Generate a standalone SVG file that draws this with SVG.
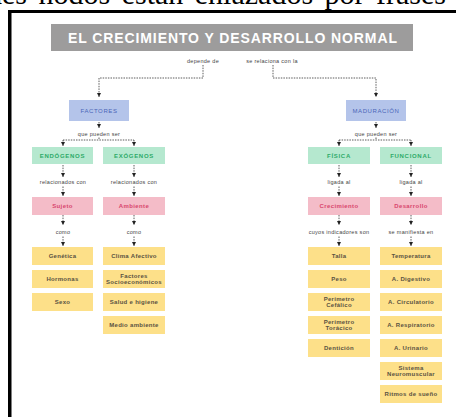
<svg xmlns="http://www.w3.org/2000/svg" width="456" height="417" viewBox="0 0 456 417">
<style>
.bg{fill:#ffffff}
.frame{fill:#000000}
.doc{font-family:"Liberation Serif",serif;font-size:30px;fill:#000;word-spacing:4px}
.title{fill:#9d9c9c}
.ttext{font-family:"Liberation Sans",Arial,sans-serif;font-size:14px;font-weight:bold;fill:#ffffff}
.blue{fill:#b4c4ea}
.green{fill:#b5e8cf}
.pink{fill:#f4bcc8}
.yellow{fill:#fde089}
.t{font-family:"Liberation Sans",Arial,sans-serif;text-anchor:middle;font-size:6px;letter-spacing:0.4px}
.tb{fill:#4b64b8;letter-spacing:0.6px}
.tg{fill:#2daa68;font-weight:bold;letter-spacing:0.7px}
.tp{fill:#d8466d;font-weight:bold}
.ty{fill:#5a5242;font-weight:bold;letter-spacing:0.3px}
.lbl{font-family:"Liberation Sans",Arial,sans-serif;text-anchor:middle;font-size:5.5px;fill:#444;letter-spacing:0.3px}
.c{fill:none;stroke:#333;stroke-width:0.8;stroke-dasharray:1.5 1.1}
.a{marker-end:url(#arr)}
</style>
<defs>
<marker id="arr" markerUnits="userSpaceOnUse" markerWidth="4" markerHeight="4" refX="4" refY="2" orient="auto">
<path d="M0,0 L4,2 L0,4 z" fill="#222"/>
</marker>
</defs>
<rect class="bg" x="0" y="0" width="456" height="417"/>
<text class="doc" x="-13" y="4">des nodos están enlazados por frases</text>
<rect class="frame" x="8" y="10" width="448" height="3"/>
<rect class="frame" x="8" y="10" width="3.5" height="407"/>

<g id="title">
<rect class="title" x="51" y="24" width="362" height="27"/>
<text class="ttext" x="68" y="43" textLength="329" lengthAdjust="spacing">EL CRECIMIENTO Y DESARROLLO NORMAL</text>
</g>

<g id="connectors">
<text class="lbl" x="203" y="63">depende de</text>
<text class="lbl" x="272" y="63">se relaciona con la</text>
<path class="c a" d="M203,65 V78 H99 V97"/>
<path class="c a" d="M273,65 V78 H376 V97"/>
<path class="c a" d="M99,122 V128"/>
<text class="lbl" x="99" y="136">que pueden ser</text>
<path class="c" d="M99,137.5 V140 M63,140 H134"/>
<path class="c a" d="M63,140 V146"/>
<path class="c a" d="M134,140 V146"/>
<path class="c a" d="M376,122 V128"/>
<text class="lbl" x="376" y="136">que pueden ser</text>
<path class="c" d="M376,137.5 V140 M339,140 H411"/>
<path class="c a" d="M339,140 V146"/>
<path class="c a" d="M411,140 V146"/>
<path class="c a" d="M63,165 V177"/>
<text class="lbl" x="63" y="184">relacionados con</text>
<path class="c a" d="M63,186.5 V196"/>
<path class="c a" d="M134,165 V177"/>
<text class="lbl" x="134" y="184">relacionados con</text>
<path class="c a" d="M134,186.5 V196"/>
<path class="c a" d="M339,165 V177"/>
<text class="lbl" x="339" y="184">ligada al</text>
<path class="c a" d="M339,186.5 V196"/>
<path class="c a" d="M411,165 V177"/>
<text class="lbl" x="411" y="184">ligada al</text>
<path class="c a" d="M411,186.5 V196"/>
<path class="c a" d="M63,215 V225"/>
<text class="lbl" x="63" y="234">como</text>
<path class="c a" d="M63,236.5 V246"/>
<path class="c a" d="M134,215 V225"/>
<text class="lbl" x="134" y="234">como</text>
<path class="c a" d="M134,236.5 V246"/>
<path class="c a" d="M339,215 V225"/>
<text class="lbl" x="339" y="234">cuyos indicadores son</text>
<path class="c a" d="M339,236.5 V246"/>
<path class="c a" d="M411,215 V225"/>
<text class="lbl" x="411" y="234">se manifiesta en</text>
<path class="c a" d="M411,236.5 V246"/>
</g>

<g id="factores"><rect class="blue" x="69" y="100" width="60" height="21"/><text class="t tb" x="99" y="112.5">FACTORES</text></g>
<g id="maduracion"><rect class="blue" x="346" y="100" width="60" height="21"/><text class="t tb" x="376" y="112.5">MADURACIÓN</text></g>

<g id="endogenos"><rect class="green" x="32" y="147" width="61" height="17"/><text class="t tg" x="62.5" y="157.5">ENDÓGENOS</text></g>
<g id="exogenos"><rect class="green" x="103" y="147" width="62" height="17"/><text class="t tg" x="134" y="157.5">EXÓGENOS</text></g>
<g id="fisica"><rect class="green" x="308" y="147" width="62" height="17"/><text class="t tg" x="339" y="157.5">FÍSICA</text></g>
<g id="funcional"><rect class="green" x="380" y="147" width="62" height="17"/><text class="t tg" x="411" y="157.5">FUNCIONAL</text></g>

<g id="sujeto"><rect class="pink" x="32" y="197" width="61" height="18"/><text class="t tp" x="62.5" y="208">Sujeto</text></g>
<g id="ambiente"><rect class="pink" x="103" y="197" width="62" height="18"/><text class="t tp" x="134" y="208">Ambiente</text></g>
<g id="crecimiento"><rect class="pink" x="308" y="197" width="62" height="18"/><text class="t tp" x="339" y="208">Crecimiento</text></g>
<g id="desarrollo"><rect class="pink" x="380" y="197" width="62" height="18"/><text class="t tp" x="411" y="208">Desarrollo</text></g>

<g id="genetica"><rect class="yellow" x="32" y="247" width="61" height="18"/><text class="t ty" x="62.5" y="258">Genética</text></g>
<g id="hormonas"><rect class="yellow" x="32" y="270" width="61" height="18"/><text class="t ty" x="62.5" y="281">Hormonas</text></g>
<g id="sexo"><rect class="yellow" x="32" y="293" width="61" height="18"/><text class="t ty" x="62.5" y="304">Sexo</text></g>

<g id="clima"><rect class="yellow" x="103" y="247" width="62" height="18"/><text class="t ty" x="134" y="258">Clima Afectivo</text></g>
<g id="socio"><rect class="yellow" x="103" y="270" width="62" height="18"/><text class="t ty" x="134" y="277.5">Factores</text><text class="t ty" x="134" y="284">Socioeconómicos</text></g>
<g id="salud"><rect class="yellow" x="103" y="293" width="62" height="18"/><text class="t ty" x="134" y="304">Salud e higiene</text></g>
<g id="medio"><rect class="yellow" x="103" y="316" width="62" height="18"/><text class="t ty" x="134" y="327">Medio ambiente</text></g>

<g id="talla"><rect class="yellow" x="308" y="247" width="62" height="18"/><text class="t ty" x="339" y="258">Talla</text></g>
<g id="peso"><rect class="yellow" x="308" y="270" width="62" height="18"/><text class="t ty" x="339" y="281">Peso</text></g>
<g id="cefalico"><rect class="yellow" x="308" y="293" width="62" height="18"/><text class="t ty" x="339" y="300.5">Perímetro</text><text class="t ty" x="339" y="307">Cefálico</text></g>
<g id="toracico"><rect class="yellow" x="308" y="316" width="62" height="18"/><text class="t ty" x="339" y="323.5">Perímetro</text><text class="t ty" x="339" y="330">Torácico</text></g>
<g id="denticion"><rect class="yellow" x="308" y="339" width="62" height="18"/><text class="t ty" x="339" y="350">Dentición</text></g>

<g id="temperatura"><rect class="yellow" x="380" y="247" width="62" height="18"/><text class="t ty" x="411" y="258">Temperatura</text></g>
<g id="digestivo"><rect class="yellow" x="380" y="270" width="62" height="18"/><text class="t ty" x="411" y="281">A. Digestivo</text></g>
<g id="circulatorio"><rect class="yellow" x="380" y="293" width="62" height="18"/><text class="t ty" x="411" y="304">A. Circulatorio</text></g>
<g id="respiratorio"><rect class="yellow" x="380" y="316" width="62" height="18"/><text class="t ty" x="411" y="327">A. Respiratorio</text></g>
<g id="urinario"><rect class="yellow" x="380" y="339" width="62" height="18"/><text class="t ty" x="411" y="350">A. Urinario</text></g>
<g id="neuro"><rect class="yellow" x="380" y="362" width="62" height="18"/><text class="t ty" x="411" y="369.5">Sistema</text><text class="t ty" x="411" y="376">Neuromuscular</text></g>
<g id="ritmos"><rect class="yellow" x="380" y="385" width="62" height="18"/><text class="t ty" x="411" y="396">Ritmos de sueño</text></g>
</svg>
